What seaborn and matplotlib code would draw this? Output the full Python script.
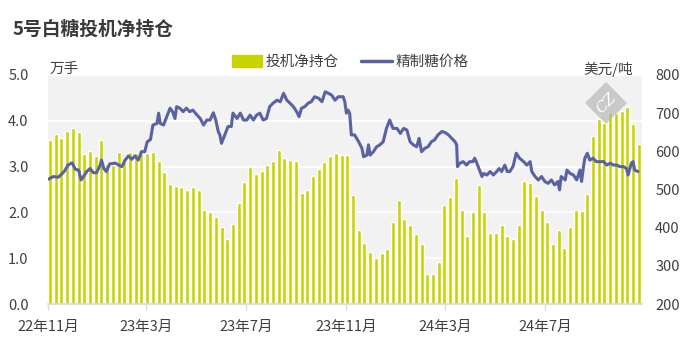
import numpy as np
import pandas as pd
import seaborn as sns
import matplotlib.pyplot as plt
from matplotlib.patches import Patch, RegularPolygon
from matplotlib.lines import Line2D
from matplotlib.transforms import IdentityTransform

# weekly speculative net position (万手)
bar_dates = pd.date_range("2022-11-03", periods=104, freq="7D")
net_pos = [3.58, 3.71, 3.62, 3.77, 3.84, 3.76, 3.27, 3.35, 3.24, 3.57,
           3.05, 3.03, 3.32, 3.18, 3.31, 3.29, 3.29, 3.29, 3.32, 3.12,
           2.88, 2.63, 2.57, 2.55, 2.48,
           2.56, 2.48, 2.06, 2.00, 1.89, 1.68, 1.43, 1.74, 2.21, 2.67,
           3.00, 2.83, 2.90, 3.04, 3.12, 3.36, 3.18, 3.14, 3.12, 2.42,
           2.48, 2.80, 2.94, 3.09, 3.24, 3.29, 3.26, 3.25, 2.37,
           1.61, 1.34, 1.14, 1.01, 1.11, 1.19, 1.78, 2.26, 1.86, 1.72,
           1.52, 1.30, 0.65, 0.65, 0.91, 2.16, 2.33, 2.76, 2.06, 1.48,
           2.00, 2.59, 2.00, 1.56, 1.54, 1.73, 1.48, 1.41,
           1.73, 2.69, 2.64, 2.35, 2.06, 1.80, 1.30, 1.62, 1.23, 1.68,
           2.06, 2.04, 2.41, 3.66, 4.05, 3.95, 4.20, 4.17, 4.22, 4.31,
           3.92, 3.50]

# refined sugar price (美元/吨), days since 2022-11-01
price_day = [0, 6, 12, 16, 20, 24, 29, 33, 37, 40, 43, 47, 51, 55, 59, 63, 65, 68, 71, 75,
             82, 86, 90, 94, 98, 102, 106, 110, 114, 118, 121, 125, 128, 133, 135, 137, 141,
             145, 149, 152, 155, 157,
             161, 165, 169, 173, 177, 182, 186, 190, 194, 198, 202, 205, 208, 210, 212, 216,
             220, 224, 226, 231, 235, 239, 243, 247, 251, 255, 259, 263, 267, 271, 275, 280,
             284, 288, 292, 296, 300, 304, 307, 310, 314, 318, 322, 326, 331, 335, 339, 343,
             347, 351, 355, 361,
             363, 365, 367, 369, 371, 375, 380, 384, 386, 390, 392, 394, 398, 402, 406, 410,
             414, 418, 422, 427, 431, 435, 439, 443, 447, 451, 454, 457, 461, 465, 469, 473,
             477, 482, 486, 490, 494, 498, 500, 501, 504, 508, 512, 516, 520, 522, 524, 528,
             531, 533, 537, 541, 545, 549, 552, 555, 559, 562,
             565, 569, 573, 577, 582, 586, 590, 592, 596, 600, 604, 608, 612, 616, 620, 624,
             626, 628, 633, 635, 639, 643, 647, 651, 653, 655, 657, 660, 663, 667, 671, 676,
             680, 684, 688, 692, 696, 700, 704, 708, 710, 714, 716, 718, 722]
price = [527, 534, 532, 540, 549, 564, 570, 553, 551, 525, 534, 547, 555, 544, 544, 562, 577, 555, 547, 567,
         569, 564, 560, 577, 588, 579, 588, 577, 599, 599, 625, 631, 669, 673, 700, 673, 669,
         691, 713, 704, 686, 717,
         713, 704, 713, 704, 708, 695, 686, 669, 682, 682, 701, 682, 652, 643, 621, 643,
         665, 665, 700, 686, 700, 682, 682, 695, 682, 695, 700, 682, 686, 717, 726, 734,
         730, 752, 734, 726, 717, 704, 691, 713, 717, 726, 730, 743, 739, 730, 756, 752,
         747, 734, 743, 743,
         730, 700, 708, 700, 643, 643, 625, 608, 586, 590, 617, 590, 599, 612, 617, 625,
         660, 682, 660, 660, 647, 660, 656, 625, 617, 612, 634, 599, 608, 612, 625, 630,
         643, 652, 649, 643, 634, 625, 617, 560, 569, 573, 564, 573, 573, 582, 573, 551,
         534, 542, 538, 547, 538, 547, 555, 547, 564, 547,
         547, 560, 595, 582, 573, 564, 573, 547, 534, 525, 534, 521, 516, 525, 512, 521,
         499, 534, 525, 551, 542, 538, 525, 551, 521, 555, 582, 595, 577, 582, 573, 573,
         573, 564, 569, 564, 564, 560, 560, 555, 538, 569, 573, 551, 547]

tick_dates = ["2022-11-01", "2023-03-01", "2023-07-01", "2023-11-01", "2024-03-01", "2024-07-01"]
tick_labels = ["22年11月", "23年3月", "23年7月", "23年11月", "24年3月", "24年7月"]

start = pd.Timestamp("2022-11-01")
bar_x = list((bar_dates - start).days)
tick_x = [(pd.Timestamp(d) - start).days for d in tick_dates]

bar_color = "#c8d400"
line_color = "#5b62a3"
text_color = "#404040"

sns.set_theme(style="white")
plt.rcParams['font.family'] = ['Noto Sans CJK SC', 'DejaVu Sans']

fig = plt.figure(figsize=(6.87, 3.55), dpi=100)
ax = fig.add_axes([48/687, 51/355, 594/687, 229/355])
ax.set_facecolor("#f2f2f2")

sns.barplot(x=bar_x, y=net_pos, native_scale=True, color=bar_color,
            saturation=1, width=0.7, errorbar=None, ax=ax, zorder=2)
ax.set_ylim(0, 5)
ax.set_yticks(np.arange(0, 5.01, 1.0))
ax.set_yticklabels([f"{v:.1f}" for v in np.arange(0, 5.01, 1.0)])
ax.yaxis.grid(True, color="white", lw=1.3)
ax.set_axisbelow(True)
ax.set_xticks(tick_x)
ax.set_xticklabels(tick_labels)
ax.tick_params(axis="y", length=0, pad=14, labelsize=10.5, colors=text_color)
ax.tick_params(axis="x", length=4.5, width=1, color="#d9d9d9", pad=7,
               labelsize=10.5, labelcolor=text_color, bottom=True)
ax.set_xlabel("")
ax.set_ylabel("")

ax2 = ax.twinx()
sns.lineplot(x=price_day, y=price, color=line_color, lw=2.2, ax=ax2)
ax2.set_ylim(200, 800)
ax2.set_yticks(range(200, 801, 100))
ax2.tick_params(axis="y", length=0, pad=9.5, labelsize=10.5, colors=text_color)
ax2.set_ylabel("")
ax.set_xlim(-0.5, 727)

for a in (ax, ax2):
    for s in a.spines.values():
        s.set_visible(False)
ax.spines["bottom"].set_visible(True)
ax.spines["bottom"].set_color("#d9d9d9")

fig.text(12.7/687, 1 - 29/355, "5号白糖投机净持仓", fontsize=13.5, fontweight="bold",
         va="center", ha="left", color="#3a3a3a")
fig.text(50/687, 1 - 69/355, "万手", fontsize=10.5, va="center", ha="left", color=text_color)
fig.text(633/687, 1 - 69/355, "美元/吨", fontsize=10.5, va="center", ha="right", color=text_color)

handles = [Patch(color=bar_color, label="投机净持仓"),
           Line2D([], [], color=line_color, lw=2.5, label="精制糖价格")]
fig.legend(handles=handles, loc="center", bbox_to_anchor=(350/687, 1 - 62/355), ncol=2,
           frameon=False, fontsize=10.5, handlelength=2.1, handleheight=0.9,
           handletextpad=0.25, columnspacing=1.5, labelcolor=text_color)

# watermark
fig.add_artist(RegularPolygon((606, 355 - 103), 4, radius=21, transform=IdentityTransform(),
                              facecolor="#b4b4b4", edgecolor="none", alpha=0.65, zorder=10))
fig.text(606/687, 1 - 103/355, "CZ", fontsize=11, color="white", ha="center", va="center",
         rotation=45, family="DejaVu Serif", style="italic", zorder=11)

fig.savefig("out.png", dpi=100)
